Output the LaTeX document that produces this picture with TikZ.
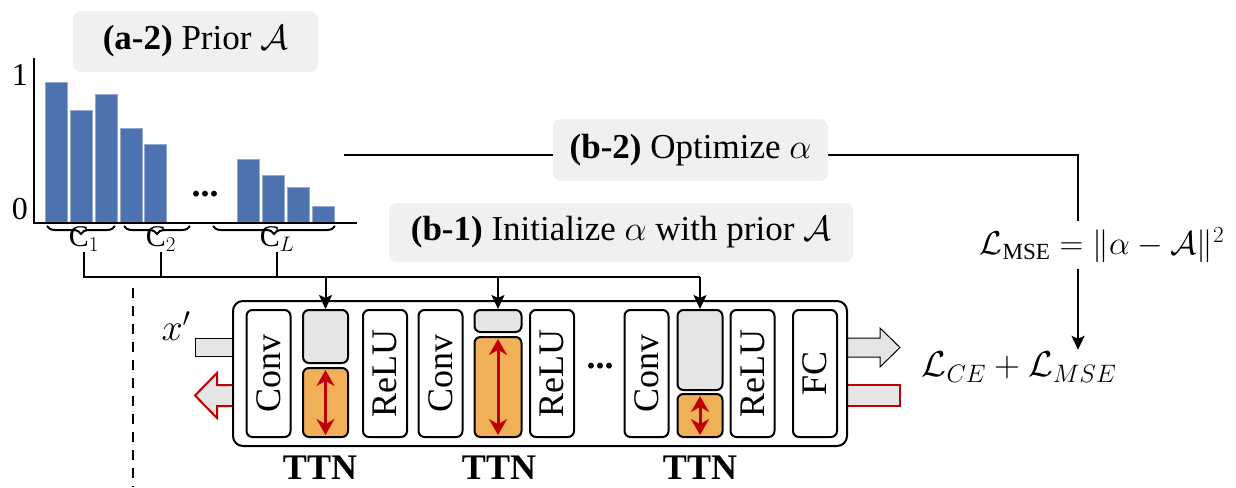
\documentclass[tikz,border=0pt]{standalone}
\usepackage{fix-cm}
\usepackage{fontspec}
\setmainfont{Liberation Serif}
\usetikzlibrary{arrows.meta,decorations.pathreplacing}
\definecolor{barblue}{RGB}{76,114,176}
\definecolor{ttnorange}{RGB}{240,176,88}
\definecolor{boxgray}{RGB}{229,229,229}
\definecolor{taggray}{RGB}{240,240,240}
\definecolor{darkred}{RGB}{192,0,0}
\tikzset{
  tag/.style={fill=taggray, rounded corners=8pt, inner xsep=0pt, minimum height=61pt, font=\fontsize{35}{40}\selectfont},
  lyrbox/.style={draw, fill=white, line width=2pt, rounded corners=6pt, rotate=90, minimum width=127pt, minimum height=44pt, inner sep=0pt, font=\fontsize{36}{40}\selectfont},
  part/.style={draw, line width=2pt, rounded corners=6pt, inner sep=0pt, minimum width=45pt},
  conn/.style={line width=2pt},
  feed/.style={conn, -{Stealth[length=14pt,width=13pt,inset=3pt]}},
  dbl/.style={darkred, line width=3pt, {Stealth[length=16pt,width=18pt]}-{Stealth[length=16pt,width=18pt]}, shorten <=3pt, shorten >=3pt},
  ttn/.style={font=\fontsize{36}{40}\selectfont\bfseries},
  grp/.style={font=\fontsize{30}{34}\selectfont, inner sep=1pt}
}
\begin{document}
\begin{tikzpicture}[x=1pt,y=-1pt]
\useasboundingbox (0,0) rectangle (1236,487);

% prior histogram
\node[tag, minimum width=245pt] (prior) at (195.5,41.5) {\textbf{(a-2)} Prior $\mathcal{A}$};
\foreach \x/\t in {45/82,70/110,95/94,120/128,144/144,237/159,262/175,287/187,312/206}
  \draw[barblue!60!white, fill=barblue, line width=0.6pt] (\x,223) rectangle ++(22,\t-223);
\draw[conn] (34,58) -- (34,223) -- (357,223);
\node[font=\fontsize{32}{36}\selectfont] at (20,75) {1};
\node[font=\fontsize{32}{36}\selectfont] at (20,209) {0};
\node[font=\fontsize{36}{40}\selectfont\bfseries] at (205,194) {...};
\draw[conn, decorate, decoration={brace, mirror, amplitude=8pt}] (47,226) -- (115,226);
\draw[conn, decorate, decoration={brace, mirror, amplitude=8pt}] (124,226) -- (190,226);
\draw[conn, decorate, decoration={brace, mirror, amplitude=8pt}] (213,226) -- (335,226);
\node[grp] (c1) at (84,239) {$\mathrm{C}_1$};
\node[grp] (c2) at (161,239) {$\mathrm{C}_2$};
\node[grp] (cL) at (277,239) {$\mathrm{C}_L$};

\draw[conn, dash pattern=on 10pt off 8pt, line width=1.5pt] (133,288) -- (133,487);

% network
\draw[line width=1pt, fill=boxgray] (195,338) rectangle (233,356);
\draw[darkred, line width=2pt, fill=boxgray] (233,385) -- (217,385) -- (217,373) -- (195,395.5) -- (217,418) -- (217,406) -- (233,406);
\draw[line width=1pt, fill=boxgray] (847,338) -- (880,338) -- (880,328) -- (900,347.5) -- (880,367) -- (880,357) -- (847,357);
\draw[darkred, line width=2pt, fill=boxgray] (847,385) -- (900,385) -- (900,406) -- (847,406);
\node[draw, fill=white, line width=2pt, rounded corners=10pt, minimum width=614pt, minimum height=145pt] (net) at (540,373.5) {};
\node[font=\fontsize{38}{42}\selectfont] (xin) at (176,326) {$x'$};

\node[lyrbox] (conv1) at (268.5,373.5) {Conv};
\node[lyrbox] (relu1) at (385,373.5) {ReLU};
\node[lyrbox] (conv2) at (440.5,373.5) {Conv};
\node[lyrbox] (relu2) at (552,373.5) {ReLU};
\node[lyrbox] (conv3) at (646.5,373.5) {Conv};
\node[lyrbox] (relu3) at (752.5,373.5) {ReLU};
\node[lyrbox] (fc) at (815,373.5) {FC};
\node[font=\fontsize{36}{40}\selectfont\bfseries] at (600,366) {...};

\node[part, fill=boxgray, minimum height=53pt] (g1) at (325.5,336.5) {};
\node[part, fill=ttnorange, minimum height=69pt] (o1) at (325.5,402.5) {};
\node[part, fill=boxgray, minimum height=22pt, minimum width=47pt] (g2) at (498,321) {};
\node[part, fill=ttnorange, minimum height=100pt, minimum width=47pt] (o2) at (498,387) {};
\node[part, fill=boxgray, minimum height=80pt] (g3) at (700,350) {};
\node[part, fill=ttnorange, minimum height=43pt] (o3) at (700,415.5) {};
\draw[dbl] (o1.north) -- (o1.south);
\draw[dbl] (o2.north) -- (o2.south);
\draw[dbl] (o3.north) -- (o3.south);
\node[ttn] at (320,468) {TTN};
\node[ttn] at (499,468) {TTN};
\node[ttn] at (700,468) {TTN};

% initialize alpha
\coordinate (bus) at (0,277);
\draw[conn] (c1.south) -- (c1.south |- bus) -- (g3.north |- bus);
\draw[conn] (c2.south) -- (c2.south |- bus);
\draw[conn] (cL.south) -- (cL.south |- bus);
\draw[feed] (g1.north |- bus) -- (g1.north);
\draw[feed] (g2.north |- bus) -- (g2.north);
\draw[feed] (g3.north |- bus) -- (g3.north);
\node[tag, minimum width=464pt, minimum height=59pt] (b1) at (621,232.5) {\textbf{(b-1)} Initialize $\alpha$ with prior $\mathcal{A}$};

% optimize alpha
\node[font=\fontsize{33}{38}\selectfont, inner ysep=6pt] (mse) at (1102,245) {$\mathcal{L}_{\mathrm{MSE}}=\|\alpha-\mathcal{A}\|^2$};
\node[font=\fontsize{36}{40}\selectfont, inner sep=2pt] (loss) at (1019,367) {$\mathcal{L}_{CE}+\mathcal{L}_{MSE}$};
\coordinate (b2start) at (344,155);
\coordinate (turn) at (1078,155);
\draw[conn] (b2start) -- (turn) -- (turn |- mse.north);
\draw[feed] (turn |- mse.south) -- (turn |- loss.north);
\node[tag, minimum width=275pt, minimum height=62pt] (b2) at (690.5,150) {\textbf{(b-2)} Optimize $\alpha$};
\end{tikzpicture}
\end{document}
